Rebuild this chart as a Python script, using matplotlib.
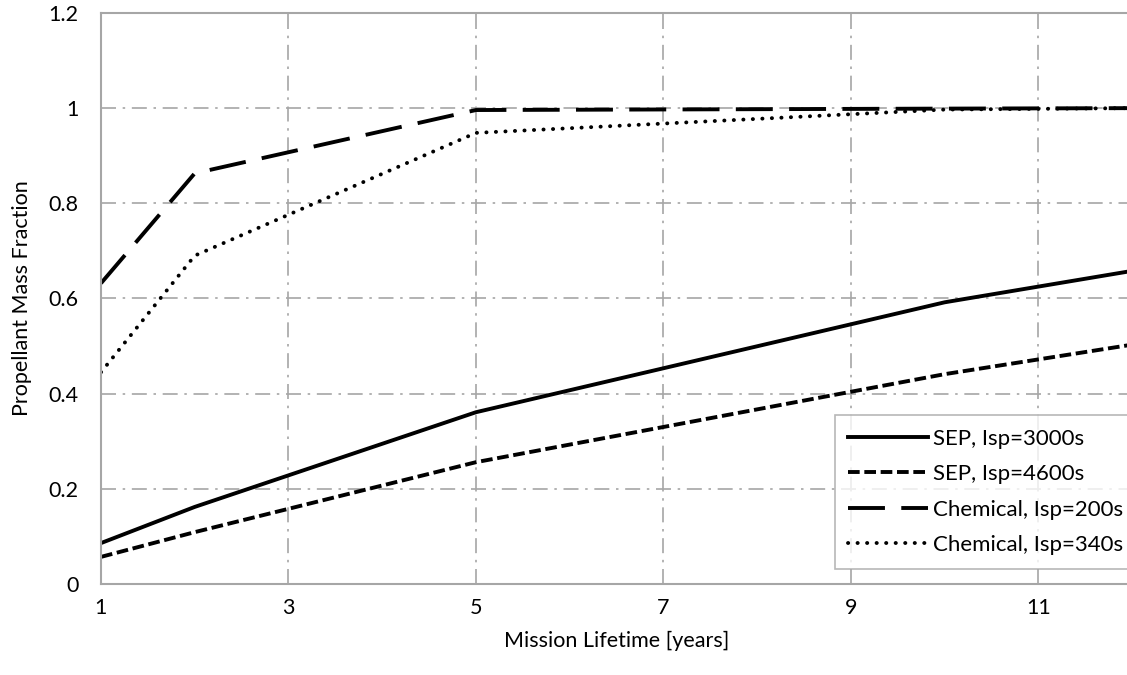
import matplotlib.pyplot as plt

plt.rcParams['font.family'] = ['Lato', 'DejaVu Sans']

years = [1, 2, 5, 10, 12]
sep_3000 = [0.086, 0.162, 0.361, 0.592, 0.658]
sep_4600 = [0.057, 0.109, 0.256, 0.441, 0.503]
chem_200 = [0.632, 0.863, 0.996, 0.999, 1.0]
chem_340 = [0.445, 0.690, 0.948, 0.997, 1.0]

xticks = [1, 3, 5, 7, 9, 11]
yticks = [0, 0.2, 0.4, 0.6, 0.8, 1.0, 1.2]
ytick_labels = ['0', '0.2', '0.4', '0.6', '0.8', '1', '1.2']

fig = plt.figure(figsize=(11.27, 6.75), dpi=100)
ax = fig.add_axes([0.0896, 0.1348, 0.915, 0.846])

ax.plot(years, sep_3000, color='black', linewidth=2.8, linestyle='-',
        label='SEP, Isp=3000s')
ax.plot(years, sep_4600, color='black', linewidth=2.8, linestyle=(0, (3.0, 1.2)),
        label='SEP, Isp=4600s')
ax.plot(years, chem_200, color='black', linewidth=2.8, linestyle=(0, (9.5, 4.2)),
        label='Chemical, Isp=200s')
ax.plot(years, chem_340, color='black', linewidth=2.8, linestyle=(0, (0.05, 2.4)),
        dash_capstyle='round', label='Chemical, Isp=340s')

ax.set_xlim(1, 12)
ax.set_ylim(0, 1.2)
ax.set_xticks(xticks)
ax.set_yticks(yticks)
ax.set_yticklabels(ytick_labels)
ax.tick_params(length=0, labelsize=15.5, pad=10)
ax.tick_params(axis='y', pad=16)

ax.grid(True, color='#a6a6a6', linestyle=(0, (9, 4, 1.5, 4)), linewidth=1.2)
for side in ['left', 'bottom', 'top']:
    ax.spines[side].set_color('#a6a6a6')
    ax.spines[side].set_linewidth(1.5)
ax.spines['right'].set_visible(False)

ax.set_xlabel('Mission Lifetime [years]', fontsize=15.5, labelpad=9)
ax.set_ylabel('Propellant Mass Fraction', fontsize=15.5, labelpad=12)

leg = ax.legend(loc='lower right', bbox_to_anchor=(1.004, 0.027), fontsize=16,
                frameon=True, fancybox=False, handlelength=3.6, handletextpad=0.2,
                borderpad=0.6, labelspacing=0.7, borderaxespad=0)
leg.get_frame().set_edgecolor('#a6a6a6')
leg.get_frame().set_linewidth(1.2)

fig.savefig('out.png', dpi=100)
